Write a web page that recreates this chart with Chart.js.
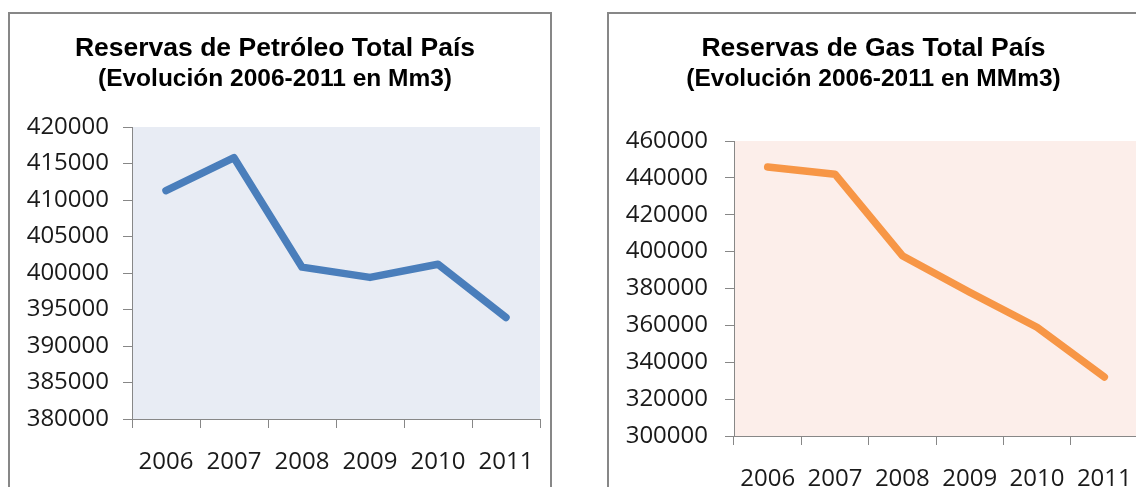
<!DOCTYPE html>
<html>
<head>
<meta charset="utf-8">
<script src="https://cdn.jsdelivr.net/npm/chart.js@4.4.1/dist/chart.umd.min.js"></script>
<style>
  html, body { margin: 0; padding: 0; background: #fff; width: 1136px; height: 487px; overflow: hidden; }
  .box { position: absolute; top: 12px; width: 540px; height: 490px; border: 2px solid #878787; }
  #boxPetroleo { left: 8px; }
  #boxGas { left: 607px; }
  canvas { display: block; }
</style>
</head>
<body>
<div class="box" id="boxPetroleo"><canvas id="graficoPetroleo" width="540" height="490"></canvas></div>
<div class="box" id="boxGas"><canvas id="graficoGas" width="540" height="490"></canvas></div>

<script>
const anios = ["2006", "2007", "2008", "2009", "2010", "2011"];

// Mm3
const petroleo = [411300, 415800, 400800, 399400, 401200, 393900];
// MMm3
const gas = [445900, 442000, 397800, 378000, 359000, 332000];

const tituloPetroleo = ["Reservas de Petróleo Total País", "(Evolución 2006-2011 en Mm3)"];
const tituloGas = ["Reservas de Gas Total País", "(Evolución 2006-2011 en MMm3)"];

const ejePetroleo = [380000, 420000, 5000]; // min, max, paso
const ejeGas = [300000, 460000, 20000];

const gris = "#878787";
const fuenteEjes = { family: "'Open Sans', sans-serif", size: 24 };
const fuenteTitulo = "'Liberation Sans', Arial, sans-serif";

// fondo del area de trazado
const fondoPlot = {
  id: "fondoPlot",
  beforeDraw(chart, args, opts) {
    const { ctx, chartArea } = chart;
    ctx.save();
    ctx.fillStyle = opts.color;
    ctx.fillRect(chartArea.left, chartArea.top, chartArea.right - chartArea.left, chartArea.bottom - chartArea.top);
    ctx.restore();
  }
};

function renderChart(canvasId, cfg) {
  const ctx = document.getElementById(canvasId).getContext("2d");

  return new Chart(ctx, {
    type: "line",
    data: {
      labels: anios,
      datasets: [
        {
          data: cfg.valores,
          borderColor: cfg.color,
          borderWidth: 7.5,
          pointRadius: 0,
          borderCapStyle: "round",
          borderJoinStyle: "round",
          tension: 0
        }
      ]
    },
    options: {
      responsive: false,
      animation: false,
      layout: { padding: { left: 0, right: cfg.padDerecha, top: 0, bottom: 0 } },
      plugins: {
        legend: { display: false },
        tooltip: { enabled: false },
        // primera linea del titulo
        title: {
          display: true,
          text: cfg.titulo[0],
          color: "#000",
          font: { family: fuenteTitulo, size: 26.5, weight: "bold", lineHeight: 31 / 26.5 },
          padding: { top: 19, bottom: 0 }
        },
        // segunda linea, algo mas estrecha
        subtitle: {
          display: true,
          text: cfg.titulo[1],
          color: "#000",
          font: { family: fuenteTitulo, size: 24.5, weight: "bold", lineHeight: 31 / 24.5 },
          padding: { top: 0, bottom: cfg.espacioTitulo }
        },
        fondoPlot: { color: cfg.fondo }
      },
      scales: {
        x: {
          offset: true,
          grid: { offset: true, drawOnChartArea: false, tickLength: 9, color: gris },
          border: { color: gris },
          ticks: { padding: 20, color: "#1a1a1a", font: fuenteEjes, maxRotation: 0, autoSkip: false },
          afterFit: (s) => {
            s.height = cfg.altoX;
            // sin margen extra a los lados, el area de trazado la fija layout.padding
            s.paddingLeft = 0;
            s.paddingRight = 0;
          }
        },
        y: {
          min: cfg.eje[0],
          max: cfg.eje[1],
          grid: { drawOnChartArea: false, tickLength: 9, color: gris },
          border: { color: gris },
          ticks: {
            stepSize: cfg.eje[2],
            padding: cfg.padTicksY,
            color: "#1a1a1a",
            font: fuenteEjes,
            callback: (v) => String(v)
          },
          afterFit: (s) => { s.width = cfg.anchoY; }
        }
      }
    },
    plugins: [fondoPlot]
  });
}

renderChart("graficoPetroleo", {
  valores: petroleo,
  titulo: tituloPetroleo,
  eje: ejePetroleo,
  color: "#4A7EBB",
  fondo: "#E8ECF4",
  espacioTitulo: 32,
  anchoY: 122,
  altoX: 85,
  padDerecha: 10,
  padTicksY: 14
});

renderChart("graficoGas", {
  valores: gas,
  titulo: tituloGas,
  eje: ejeGas,
  color: "#F79646",
  fondo: "#FCEEEA",
  espacioTitulo: 46,
  anchoY: 125,
  altoX: 68,
  padDerecha: 11,
  padTicksY: 17
});
</script>
</body>
</html>
